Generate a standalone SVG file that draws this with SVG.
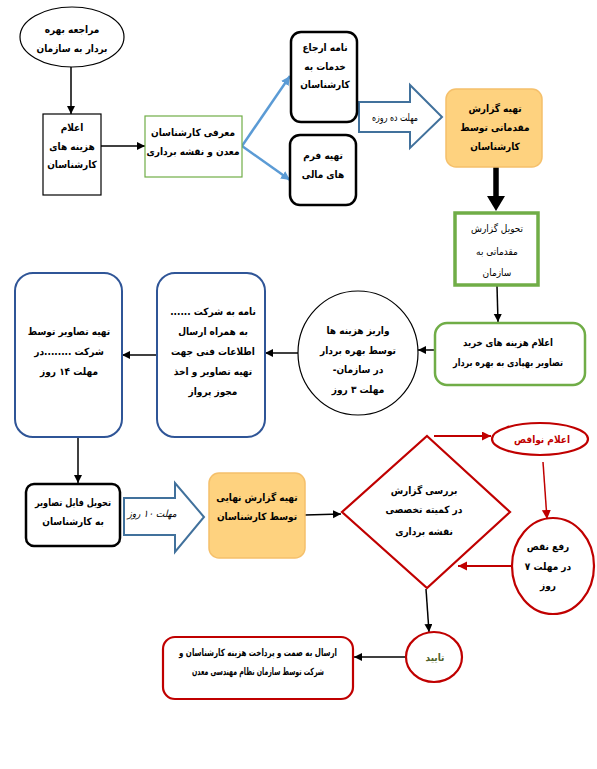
<svg xmlns="http://www.w3.org/2000/svg" width="597" height="769" viewBox="0 0 597 769">
<defs>
<style>
.t{font-family:"DejaVu Sans Condensed","DejaVu Sans",sans-serif;font-size:10px;text-anchor:middle;fill:#000;direction:rtl;unicode-bidi:embed;}
.b{font-weight:bold;}
.r{fill:#c00000;}
.blk{fill:none;stroke:#000;stroke-width:1.5;}
.grn{fill:#fff;stroke:#70ad47;}
.blu{fill:#fff;stroke:#2f5597;stroke-width:2;}
.org{fill:#fed27f;stroke:#f5c06b;stroke-width:1.5;}
.red{fill:#fff;stroke:#c00000;stroke-width:2.2;}
.bk{fill:#fff;stroke:#000;stroke-width:2.5;}
.barrow{fill:#fff;stroke:#41719c;stroke-width:2;}
</style>
<marker id="ab" markerUnits="userSpaceOnUse" markerWidth="9" markerHeight="9" refX="8" refY="4" orient="auto"><path d="M0,0 L8,4 L0,8 z" fill="#000"/></marker>
<marker id="au" markerUnits="userSpaceOnUse" markerWidth="10" markerHeight="10" refX="9" refY="4.5" orient="auto"><path d="M0,0 L9,4.5 L0,9 z" fill="#5b9bd5"/></marker>
<marker id="ar" markerUnits="userSpaceOnUse" markerWidth="10" markerHeight="10" refX="9" refY="4.5" orient="auto"><path d="M0,0 L9,4.5 L0,9 z" fill="#c00000"/></marker>
</defs>
<rect width="597" height="769" fill="#fff"/>

<g id="connectors">
<line x1="71" y1="67" x2="71" y2="114" class="blk" marker-end="url(#ab)"/>
<line x1="101" y1="146" x2="145" y2="146" class="blk" marker-end="url(#ab)"/>
<line x1="242" y1="146" x2="290" y2="76" stroke="#5b9bd5" stroke-width="2.5" marker-end="url(#au)"/>
<line x1="242" y1="146" x2="290" y2="180" stroke="#5b9bd5" stroke-width="2.5" marker-end="url(#au)"/>
<line x1="496" y1="167" x2="496" y2="198" stroke="#000" stroke-width="5.5"/>
<polygon points="487,196 505,196 496,211" fill="#000"/>
<line x1="497" y1="286" x2="498" y2="322" class="blk" marker-end="url(#ab)"/>
<line x1="435" y1="350" x2="418" y2="350" class="blk" stroke-width="2" marker-end="url(#ab)"/>
<line x1="298" y1="353" x2="265" y2="353" class="blk" stroke-width="2" marker-end="url(#ab)"/>
<line x1="157" y1="355" x2="122" y2="355" class="blk" stroke-width="2" marker-end="url(#ab)"/>
<line x1="78" y1="437" x2="78" y2="483" class="blk" marker-end="url(#ab)"/>
<line x1="305" y1="515" x2="341" y2="514" class="blk" marker-end="url(#ab)"/>
<line x1="434" y1="436" x2="491" y2="436" stroke="#c00000" stroke-width="2" marker-end="url(#ar)"/>
<line x1="543" y1="462" x2="547" y2="519" stroke="#c00000" stroke-width="1.5" marker-end="url(#ar)"/>
<line x1="512" y1="566" x2="458" y2="566" stroke="#c00000" stroke-width="2" marker-end="url(#ar)"/>
<line x1="426" y1="589" x2="429" y2="632" class="blk" stroke-width="2" marker-end="url(#ab)"/>
<line x1="406" y1="657" x2="354" y2="657" class="blk" stroke-width="2" marker-end="url(#ab)"/>
<g id="arrow-10day">
<polygon points="359,102 410,102 410,85 442,117 410,148 410,132 359,132" class="barrow"/>
<text x="395" y="121" class="t" font-size="9" textLength="46" lengthAdjust="spacingAndGlyphs">مهلت ده روزه</text>
</g>
<g id="arrow-10roz">
<polygon points="124,498 175,498 175,483 204,517 175,552 175,535 124,535" class="barrow"/>
<text x="152" y="517" class="t" font-size="8.5" font-style="italic">مهلت ۱۰ روز</text>
</g>
</g>

<g id="n1"><ellipse cx="72" cy="37" rx="52" ry="30" fill="#fff" stroke="#000" stroke-width="1.2"/>
<text class="t b" x="72" y="33">مراجعه بهره</text><text class="t b" x="72" y="52">بردار به سازمان</text></g>

<g id="n2"><rect x="43" y="114" width="58" height="81" fill="#fff" stroke="#000" stroke-width="1.2"/>
<text class="t b" x="72" y="131">اعلام</text><text class="t b" x="72" y="150">هزینه های</text><text class="t b" x="72" y="168">کارشناسان</text></g>

<g id="n3"><rect x="145" y="116" width="97" height="61" class="grn" stroke-width="1.2"/>
<text class="t b" x="193" y="136">معرفی کارشناسان</text><text class="t b" x="193" y="155">معدن و نقشه برداری</text></g>

<g id="n4"><rect x="291" y="32" width="66" height="90" rx="10" class="bk"/>
<text class="t b" x="325" y="51">نامه ارجاع</text><text class="t b" x="325" y="70">خدمات به</text><text class="t b" x="325" y="88">کارشناسان</text></g>

<g id="n5"><rect x="290" y="135" width="66" height="70" rx="10" class="bk"/>
<text class="t b" x="323" y="159">تهیه فرم</text><text class="t b" x="323" y="178">های مالی</text></g>

<g id="n6"><rect x="446" y="89" width="96" height="78" rx="10" class="org"/>
<text class="t b" x="495" y="112">تهیه گزارش</text><text class="t b" x="495" y="131">مقدماتی توسط</text><text class="t b" x="495" y="150">کارشناسان</text></g>

<g id="n7"><rect x="455" y="213" width="83" height="72" class="grn" stroke-width="3.5"/>
<text class="t" x="497" y="232">تحویل گزارش</text><text class="t" x="497" y="255">مقدماتی به</text><text class="t" x="497" y="276">سازمان</text></g>

<g id="n8"><rect x="435" y="323" width="150" height="62" rx="12" class="grn" stroke-width="2.5"/>
<text class="t b" x="508" y="346" textLength="90" lengthAdjust="spacingAndGlyphs">اعلام هزینه های خرید</text><text class="t b" x="508" y="366" textLength="110" lengthAdjust="spacingAndGlyphs">تصاویر بهپادی به بهره بردار</text></g>

<g id="n9"><ellipse cx="358" cy="353" rx="60" ry="62" fill="#fff" stroke="#000" stroke-width="1.2"/>
<text class="t b" x="358" y="334">واریز هزینه ها</text><text class="t b" x="358" y="354">توسط بهره بردار</text><text class="t b" x="358" y="373">در سازمان-</text><text class="t b" x="358" y="393">مهلت ۳ روز</text></g>

<g id="n10"><rect x="157" y="273" width="108" height="164" rx="18" class="blu"/>
<text class="t b" x="213" y="315">نامه به شرکت ......</text><text class="t b" x="213" y="335">به همراه ارسال</text><text class="t b" x="213" y="355">اطلاعات فنی جهت</text><text class="t b" x="213" y="375">تهیه تصاویر و اخذ</text><text class="t b" x="213" y="395">مجوز پرواز</text></g>

<g id="n11"><rect x="15" y="273" width="107" height="164" rx="18" class="blu"/>
<text class="t b" x="69" y="335">تهیه تصاویر توسط</text><text class="t b" x="69" y="355">شرکت ........در</text><text class="t b" x="69" y="375">مهلت ۱۴ روز</text></g>

<g id="n12"><rect x="26" y="484" width="94" height="62" rx="8" class="bk"/>
<text class="t b" x="73" y="506" textLength="76" lengthAdjust="spacingAndGlyphs">تحویل فایل تصاویر</text><text class="t b" x="73" y="525">به کارشناسان</text></g>

<g id="n13"><rect x="209" y="473" width="96" height="85" rx="10" class="org"/>
<text class="t b" x="257" y="501">تهیه گزارش نهایی</text><text class="t b" x="257" y="520">توسط کارشناسان</text></g>

<g id="n14"><polygon points="427,436 510,512 427,588 342,512" class="red"/>
<text class="t b" x="424" y="494">بررسی گزارش</text><text class="t b" x="424" y="513">در کمیته تخصصی</text><text class="t b" x="424" y="535">نقشه برداری</text></g>

<g id="n15"><ellipse cx="540" cy="439" rx="48" ry="16" class="red"/>
<text class="t b r" x="542" y="443">اعلام نواقص</text></g>

<g id="n16"><ellipse cx="553" cy="566" rx="41" ry="48" class="red"/>
<text class="t b" x="548" y="550">رفع نقص</text><text class="t b" x="548" y="570">در مهلت ۷</text><text class="t b" x="548" y="589">روز</text></g>

<g id="n17"><ellipse cx="434" cy="657" rx="28" ry="25" class="red"/>
<text class="t b" x="435" y="661" style="fill:#4f6228">تایید</text></g>

<g id="n18"><rect x="163" y="637" width="190" height="62" rx="12" class="red"/>
<text class="t b" x="258" y="656" textLength="158" lengthAdjust="spacingAndGlyphs">ارسال به صمت و پرداخت هزینه کارشناسان و</text><text class="t b" x="258" y="675" textLength="132" lengthAdjust="spacingAndGlyphs">شرکت توسط سازمان نظام مهندسی معدن</text></g>
</svg>
